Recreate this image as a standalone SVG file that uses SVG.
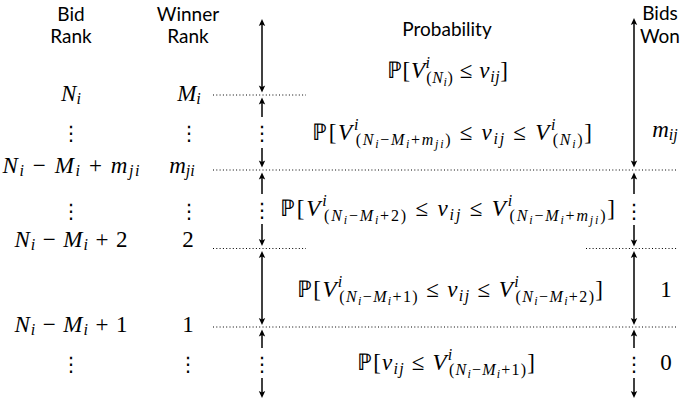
<svg xmlns="http://www.w3.org/2000/svg" width="691" height="407" viewBox="0 0 691 407">
<style>
.m{font-size:23px;fill:#000}
.i{font-style:italic}
.s{font-size:16px}
.ss{font-size:12px}
.h{font-size:19px;fill:#000;text-anchor:middle}
.vd{font-size:20px;fill:#000;text-anchor:middle}
.dot{stroke:#000;stroke-width:1;stroke-dasharray:1 2.3;fill:none}
.ar{stroke:#000;stroke-width:1.5;fill:none}
</style>
<defs>
<marker id="ah" viewBox="-4 -4 9 8" refX="0" refY="0" markerWidth="9" markerHeight="8" orient="auto-start-reverse" markerUnits="userSpaceOnUse">
<path d="M4,0 L-3,-3.2 L-1.5,0 L-3,3.2 Z" fill="#000"/>
</marker>
</defs>

<g id="headers">
<text class="h" font-family="Lato" x="71" y="21">Bid</text>
<text class="h" font-family="Lato" x="71" y="43">Rank</text>
<text class="h" font-family="Lato" x="188" y="21">Winner</text>
<text class="h" font-family="Lato" x="188" y="43">Rank</text>
<text class="h" font-family="Lato" x="447" y="36">Probability</text>
<text class="h" font-family="Lato" x="660" y="20">Bids</text>
<text class="h" font-family="Lato" x="660" y="43">Won</text>
</g>

<g id="connectors">
<line class="dot" x1="213" y1="95" x2="306" y2="95"/>
<line class="dot" x1="213" y1="170" x2="678" y2="170"/>
<line class="dot" x1="213" y1="248.5" x2="306" y2="248.5"/>
<line class="dot" x1="586" y1="248.5" x2="678" y2="248.5"/>
<line class="dot" x1="213" y1="327" x2="678" y2="327"/>
<line class="ar" x1="262" y1="23" x2="262" y2="88.5" marker-start="url(#ah)" marker-end="url(#ah)"/>
<line class="ar" x1="262" y1="117" x2="262" y2="101.5" marker-end="url(#ah)"/>
<line class="ar" x1="262" y1="148" x2="262" y2="163.5" marker-end="url(#ah)"/>
<line class="ar" x1="262" y1="194" x2="262" y2="176.5" marker-end="url(#ah)"/>
<line class="ar" x1="262" y1="224" x2="262" y2="242" marker-end="url(#ah)"/>
<line class="ar" x1="262" y1="255" x2="262" y2="321" marker-start="url(#ah)" marker-end="url(#ah)"/>
<line class="ar" x1="262" y1="348" x2="262" y2="333.5" marker-end="url(#ah)"/>
<line class="ar" x1="262" y1="378" x2="262" y2="394" marker-end="url(#ah)"/>
<line class="ar" x1="634" y1="22" x2="634" y2="163.5" marker-start="url(#ah)" marker-end="url(#ah)"/>
<line class="ar" x1="634" y1="194" x2="634" y2="176.5" marker-end="url(#ah)"/>
<line class="ar" x1="634" y1="225" x2="634" y2="242.5" marker-end="url(#ah)"/>
<line class="ar" x1="634" y1="255" x2="634" y2="321" marker-start="url(#ah)" marker-end="url(#ah)"/>
<line class="ar" x1="634" y1="348" x2="634" y2="333.5" marker-end="url(#ah)"/>
<line class="ar" x1="634" y1="378" x2="634" y2="394" marker-end="url(#ah)"/>
<text class="vd" font-family="DejaVu Sans" x="262" y="140">⋮</text>
<text class="vd" font-family="DejaVu Sans" x="262" y="217">⋮</text>
<text class="vd" font-family="DejaVu Sans" x="262" y="371">⋮</text>
<text class="vd" font-family="DejaVu Sans" x="634" y="218">⋮</text>
<text class="vd" font-family="DejaVu Sans" x="634" y="371">⋮</text>
</g>

<g id="bid-rank">
<text class="m" font-family="Liberation Serif" x="71" y="101" text-anchor="middle"><tspan class="i">N</tspan><tspan class="i s" dy="3">i</tspan></text>
<text class="vd" font-family="DejaVu Sans" x="71" y="140">⋮</text>
<text class="m" font-family="Liberation Serif" x="71" y="173" text-anchor="middle" textLength="137" lengthAdjust="spacing"><tspan class="i">N</tspan><tspan class="i s" dy="3">i</tspan><tspan dy="-3"> − </tspan><tspan class="i">M</tspan><tspan class="i s" dy="3">i</tspan><tspan dy="-3"> + </tspan><tspan class="i">m</tspan><tspan class="i s" dy="3">ji</tspan></text>
<text class="vd" font-family="DejaVu Sans" x="71" y="218">⋮</text>
<text class="m" font-family="Liberation Serif" x="71" y="247" text-anchor="middle" textLength="113" lengthAdjust="spacing"><tspan class="i">N</tspan><tspan class="i s" dy="3">i</tspan><tspan dy="-3"> − </tspan><tspan class="i">M</tspan><tspan class="i s" dy="3">i</tspan><tspan dy="-3"> + 2</tspan></text>
<text class="m" font-family="Liberation Serif" x="71" y="332" text-anchor="middle" textLength="113" lengthAdjust="spacing"><tspan class="i">N</tspan><tspan class="i s" dy="3">i</tspan><tspan dy="-3"> − </tspan><tspan class="i">M</tspan><tspan class="i s" dy="3">i</tspan><tspan dy="-3"> + 1</tspan></text>
<text class="vd" font-family="DejaVu Sans" x="71" y="371">⋮</text>
</g>

<g id="winner-rank">
<text class="m" font-family="Liberation Serif" x="189" y="101" text-anchor="middle"><tspan class="i">M</tspan><tspan class="i s" dy="3">i</tspan></text>
<text class="vd" font-family="DejaVu Sans" x="189" y="140">⋮</text>
<text class="m" font-family="Liberation Serif" x="182" y="173" text-anchor="middle"><tspan class="i">m</tspan><tspan class="i s" dy="3">ji</tspan></text>
<text class="vd" font-family="DejaVu Sans" x="189" y="218">⋮</text>
<text class="m" font-family="Liberation Serif" x="188" y="247" text-anchor="middle">2</text>
<text class="m" font-family="Liberation Serif" x="188" y="332" text-anchor="middle">1</text>
<text class="vd" font-family="DejaVu Sans" x="188" y="371">⋮</text>
</g>

<g id="probability">
<text class="m" font-family="Liberation Serif" x="447.5" y="78" text-anchor="middle" textLength="121" lengthAdjust="spacing">ℙ[<tspan class="i">V</tspan><tspan class="i s" dy="-10">i</tspan><tspan class="s" dx="-4.4" dy="15">(</tspan><tspan class="i s">N</tspan><tspan class="i ss" dy="3">i</tspan><tspan class="s" dy="-3">)</tspan><tspan dy="-5"> ≤ </tspan><tspan class="i">v</tspan><tspan class="i s" dy="4">ij</tspan><tspan dy="-4">]</tspan></text>
<text class="m" font-family="Liberation Serif" x="452" y="140" text-anchor="middle" textLength="280" lengthAdjust="spacing">ℙ[<tspan class="i">V</tspan><tspan class="i s" dy="-10">i</tspan><tspan class="s" dx="-4.4" dy="15">(</tspan><tspan class="i s">N</tspan><tspan class="i ss" dy="3">i</tspan><tspan class="s" dy="-3">−</tspan><tspan class="i s">M</tspan><tspan class="i ss" dy="3">i</tspan><tspan class="s" dy="-3">+</tspan><tspan class="i s">m</tspan><tspan class="i ss" dy="3">ji</tspan><tspan class="s" dy="-3">)</tspan><tspan dy="-5"> ≤ </tspan><tspan class="i">v</tspan><tspan class="i s" dy="4">ij</tspan><tspan dy="-4"> ≤ </tspan><tspan class="i">V</tspan><tspan class="i s" dy="-10">i</tspan><tspan class="s" dx="-4.4" dy="15">(</tspan><tspan class="i s">N</tspan><tspan class="i ss" dy="3">i</tspan><tspan class="s" dy="-3">)</tspan><tspan dy="-5">]</tspan></text>
<text class="m" font-family="Liberation Serif" x="447.5" y="216" text-anchor="middle" textLength="335" lengthAdjust="spacing">ℙ[<tspan class="i">V</tspan><tspan class="i s" dy="-10">i</tspan><tspan class="s" dx="-4.4" dy="15">(</tspan><tspan class="i s">N</tspan><tspan class="i ss" dy="3">i</tspan><tspan class="s" dy="-3">−</tspan><tspan class="i s">M</tspan><tspan class="i ss" dy="3">i</tspan><tspan class="s" dy="-3">+2)</tspan><tspan dy="-5"> ≤ </tspan><tspan class="i">v</tspan><tspan class="i s" dy="4">ij</tspan><tspan dy="-4"> ≤ </tspan><tspan class="i">V</tspan><tspan class="i s" dy="-10">i</tspan><tspan class="s" dx="-4.4" dy="15">(</tspan><tspan class="i s">N</tspan><tspan class="i ss" dy="3">i</tspan><tspan class="s" dy="-3">−</tspan><tspan class="i s">M</tspan><tspan class="i ss" dy="3">i</tspan><tspan class="s" dy="-3">+</tspan><tspan class="i s">m</tspan><tspan class="i ss" dy="3">ji</tspan><tspan class="s" dy="-3">)</tspan><tspan dy="-5">]</tspan></text>
<text class="m" font-family="Liberation Serif" x="450" y="297" text-anchor="middle" textLength="306" lengthAdjust="spacing">ℙ[<tspan class="i">V</tspan><tspan class="i s" dy="-10">i</tspan><tspan class="s" dx="-4.4" dy="15">(</tspan><tspan class="i s">N</tspan><tspan class="i ss" dy="3">i</tspan><tspan class="s" dy="-3">−</tspan><tspan class="i s">M</tspan><tspan class="i ss" dy="3">i</tspan><tspan class="s" dy="-3">+1)</tspan><tspan dy="-5"> ≤ </tspan><tspan class="i">v</tspan><tspan class="i s" dy="4">ij</tspan><tspan dy="-4"> ≤ </tspan><tspan class="i">V</tspan><tspan class="i s" dy="-10">i</tspan><tspan class="s" dx="-4.4" dy="15">(</tspan><tspan class="i s">N</tspan><tspan class="i ss" dy="3">i</tspan><tspan class="s" dy="-3">−</tspan><tspan class="i s">M</tspan><tspan class="i ss" dy="3">i</tspan><tspan class="s" dy="-3">+2)</tspan><tspan dy="-5">]</tspan></text>
<text class="m" font-family="Liberation Serif" x="446" y="370" text-anchor="middle" textLength="178" lengthAdjust="spacing">ℙ[<tspan class="i">v</tspan><tspan class="i s" dy="4">ij</tspan><tspan dy="-4"> ≤ </tspan><tspan class="i">V</tspan><tspan class="i s" dy="-10">i</tspan><tspan class="s" dx="-4.4" dy="15">(</tspan><tspan class="i s">N</tspan><tspan class="i ss" dy="3">i</tspan><tspan class="s" dy="-3">−</tspan><tspan class="i s">M</tspan><tspan class="i ss" dy="3">i</tspan><tspan class="s" dy="-3">+1)</tspan><tspan dy="-5">]</tspan></text>
</g>

<g id="bids-won">
<text class="m" font-family="Liberation Serif" x="665" y="137" text-anchor="middle"><tspan class="i">m</tspan><tspan class="i s" dy="3">ij</tspan></text>
<text class="m" font-family="Liberation Serif" x="666" y="297" text-anchor="middle">1</text>
<text class="m" font-family="Liberation Serif" x="666" y="370" text-anchor="middle">0</text>
</g>
</svg>
